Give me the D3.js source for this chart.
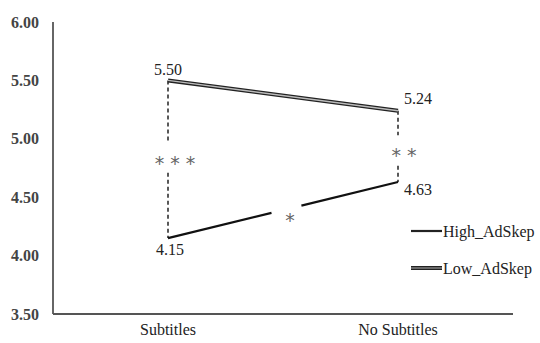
<!DOCTYPE html>
<html>
<head>
<meta charset="utf-8">
<script src="https://cdn.jsdelivr.net/npm/d3@7"></script>
<style>
  body { margin: 0; background: #fff; }
  svg text { font-family: "Liberation Serif", "DejaVu Serif", serif; }
  svg text.star { font-family: "DejaVu Sans", sans-serif; }
</style>
</head>
<body>
<script>
const w = 540;
const h = 343;

const categories = ["Subtitles", "No Subtitles"];
const highValues = [4.15, 4.63];
const lowValues = [5.50, 5.24];
const yTicks = [3.5, 4.0, 4.5, 5.0, 5.5, 6.0];

const svg = d3.select("body")
  .append("svg")
  .attr("width", w)
  .attr("height", h);

const x = d3.scaleBand()
  .domain(categories)
  .range([53, 513]);

const y = d3.scaleLinear()
  .domain([3.5, 6.0])
  .range([314, 22]);

const cx = d => x(d) + x.bandwidth() / 2;

// axes
svg.append("line")
  .attr("x1", 53).attr("x2", 53)
  .attr("y1", y(6.0)).attr("y2", y(3.5))
  .attr("stroke", "#333").attr("stroke-width", 1.5);

svg.append("line")
  .attr("x1", 53).attr("x2", 513)
  .attr("y1", y(3.5)).attr("y2", y(3.5))
  .attr("stroke", "#555").attr("stroke-width", 2);

svg.append("g")
  .selectAll("text")
  .data(yTicks)
  .enter()
  .append("text")
  .attr("x", 39)
  .attr("y", d => y(d))
  .attr("dy", "0.35em")
  .attr("text-anchor", "end")
  .attr("font-size", 16)
  .attr("font-weight", "bold")
  .attr("fill", "#444")
  .text(d => d.toFixed(2));

svg.append("g")
  .selectAll("text")
  .data(categories)
  .enter()
  .append("text")
  .attr("x", d => cx(d))
  .attr("y", 335)
  .attr("text-anchor", "middle")
  .attr("font-size", 16)
  .attr("fill", "#222")
  .text(d => d);

// dashed connectors with asterisks
const sig = [
  { cat: 0, label: "* * *", gapTop: 4.96, gapBottom: 4.71, dx: 7 },
  { cat: 1, label: "* *", gapTop: 5.03, gapBottom: 4.77, dx: 6 }
];

sig.forEach(s => {
  const xx = cx(categories[s.cat]);
  const segs = [[lowValues[s.cat], s.gapTop], [s.gapBottom, highValues[s.cat]]];
  segs.forEach(seg => {
    svg.append("line")
      .attr("x1", xx).attr("x2", xx)
      .attr("y1", y(seg[0])).attr("y2", y(seg[1]))
      .attr("stroke", "#222").attr("stroke-width", 1.5)
      .attr("stroke-dasharray", "4,3");
  });
  svg.append("text")
    .attr("class", "star")
    .attr("x", xx + s.dx)
    .attr("y", y((s.gapTop + s.gapBottom) / 2) + 12)
    .attr("text-anchor", "middle")
    .attr("font-size", 19)
    .attr("fill", "#666")
    .text(s.label);
});

// High_AdSkep line, broken around the middle asterisk
const hx0 = cx(categories[0]), hx1 = cx(categories[1]);
const hy0 = y(highValues[0]), hy1 = y(highValues[1]);
const lerp = t => [hx0 + (hx1 - hx0) * t, hy0 + (hy1 - hy0) * t];
[[0, 0.45], [0.58, 1]].forEach(p => {
  const a = lerp(p[0]), b = lerp(p[1]);
  svg.append("line")
    .attr("x1", a[0]).attr("y1", a[1])
    .attr("x2", b[0]).attr("y2", b[1])
    .attr("stroke", "#111").attr("stroke-width", 2.2);
});
const mid = lerp(0.53);
svg.append("text")
  .attr("class", "star")
  .attr("x", mid[0])
  .attr("y", mid[1] + 19)
  .attr("text-anchor", "middle")
  .attr("font-size", 19)
  .attr("fill", "#666")
  .text("*");

// Low_AdSkep double line
const lowLine = d3.line()
  .x((d, i) => cx(categories[i]))
  .y(d => y(d));

svg.append("path")
  .datum(lowValues)
  .attr("d", lowLine)
  .attr("fill", "none")
  .attr("stroke", "#222").attr("stroke-width", 4);
svg.append("path")
  .datum(lowValues)
  .attr("d", lowLine)
  .attr("fill", "none")
  .attr("stroke", "#bbb").attr("stroke-width", 1.4);

// value labels
const labels = [
  { v: lowValues[0], x: cx(categories[0]), dy: -5, anchor: "middle" },
  { v: lowValues[1], x: cx(categories[1]) + 6, dy: -7, anchor: "start" },
  { v: highValues[1], x: cx(categories[1]) + 6, dy: 13, anchor: "start" },
  { v: highValues[0], x: cx(categories[0]) + 2, dy: 17, anchor: "middle" }
];
svg.append("g")
  .selectAll("text")
  .data(labels)
  .enter()
  .append("text")
  .attr("x", d => d.x)
  .attr("y", d => y(d.v) + d.dy)
  .attr("text-anchor", d => d.anchor)
  .attr("font-size", 16)
  .attr("fill", "#222")
  .text(d => d.v.toFixed(2));

// legend
const legendData = [
  { label: "High_AdSkep", dbl: false },
  { label: "Low_AdSkep", dbl: true }
];
const legend = svg.append("g")
  .selectAll("g")
  .data(legendData)
  .enter()
  .append("g")
  .attr("transform", (d, i) => "translate(411, " + (231 + i * 37) + ")");

legend.append("line")
  .attr("x1", 0).attr("x2", 31)
  .attr("stroke", "#222")
  .attr("stroke-width", d => d.dbl ? 4 : 2.2);
legend.filter(d => d.dbl)
  .append("line")
  .attr("x1", 0).attr("x2", 31)
  .attr("stroke", "#888").attr("stroke-width", 1.4);
legend.append("text")
  .attr("x", 32)
  .attr("dy", "0.35em")
  .attr("font-size", 16)
  .attr("fill", "#222")
  .text(d => d.label);
</script>
</body>
</html>
